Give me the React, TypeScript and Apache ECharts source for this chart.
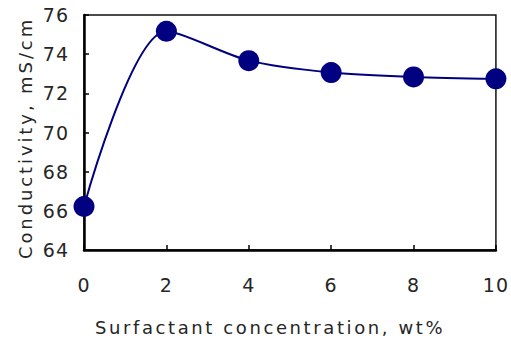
import React, { useEffect, useRef } from "react";
import * as echarts from "echarts";

const concentrations = [0, 2, 4, 6, 8, 10];
const conductivity = [66.22, 75.17, 73.67, 73.06, 72.84, 72.74];
const xTicks = [0, 2, 4, 6, 8, 10];
const yTicks = [64, 66, 68, 70, 72, 74, 76];
const xTitle = "Surfactant concentration, wt%";
const yTitle = "Conductivity, mS/cm";

const FONT = "'DejaVu Sans', sans-serif";
const TEXT_COLOR = "#262626";

export default function App() {
  const ref = useRef<HTMLDivElement>(null);
  useEffect(() => {
    if (!ref.current) return;
    const chart = echarts.init(ref.current, null, { renderer: "svg" });
    chart.setOption({
      animation: false,
      backgroundColor: "#fff",
      grid: {
        left: 84,
        top: 15,
        right: 14,
        bottom: 93,
        show: true,
        borderColor: "#111",
        borderWidth: 1.5,
        containLabel: false,
      },
      xAxis: {
        type: "value",
        min: xTicks[0],
        max: xTicks[xTicks.length - 1],
        interval: 2,
        axisLine: { show: true, onZero: false, lineStyle: { color: "#000", width: 2.5 } },
        axisTick: { show: true, inside: true, length: 5, lineStyle: { color: "#000", width: 1.5 } },
        splitLine: { show: false },
        axisLabel: { margin: 25, fontSize: 19, color: TEXT_COLOR, fontFamily: FONT },
      },
      yAxis: {
        type: "value",
        min: yTicks[0],
        max: yTicks[yTicks.length - 1],
        interval: 2,
        axisLine: { show: true, onZero: false, lineStyle: { color: "#000", width: 2.5 } },
        axisTick: { show: true, inside: true, length: 5, lineStyle: { color: "#000", width: 1.5 } },
        splitLine: { show: false },
        axisLabel: { margin: 15, fontSize: 19, color: TEXT_COLOR, fontFamily: FONT },
      },
      graphic: [
        {
          type: "text",
          x: 270,
          y: 327,
          style: {
            text: xTitle,
            align: "center",
            verticalAlign: "middle",
            fontSize: 18,
            fill: TEXT_COLOR,
            fontFamily: FONT,
          },
        },
        {
          type: "text",
          x: 25,
          y: 138,
          rotation: Math.PI / 2,
          style: {
            text: yTitle,
            align: "center",
            verticalAlign: "middle",
            fontSize: 18,
            fill: TEXT_COLOR,
            fontFamily: FONT,
          },
        },
      ],
      series: [
        {
          type: "line",
          data: concentrations.map((c, i) => [c, conductivity[i]]),
          smooth: 0.3,
          symbol: "circle",
          symbolSize: 21,
          lineStyle: { color: "#000080", width: 2 },
          itemStyle: { color: "#000080" },
          clip: false,
          z: 5,
        },
      ],
    });
    // widen letter spacing to match the reference's wide typeface
    const texts = ref.current.querySelectorAll("text");
    texts.forEach((t) => {
      const s = t.textContent || "";
      if (s === xTitle) {
        t.setAttribute("letter-spacing", "2.6");
      } else if (s === yTitle) {
        t.setAttribute("letter-spacing", "2.9");
      } else if (/^\d+$/.test(s)) {
        t.setAttribute("letter-spacing", "1");
      }
    });
    return () => chart.dispose();
  }, []);
  return <div ref={ref} style={{ width: 511, height: 343, position: "absolute", left: 0, top: 0 }} />;
}
